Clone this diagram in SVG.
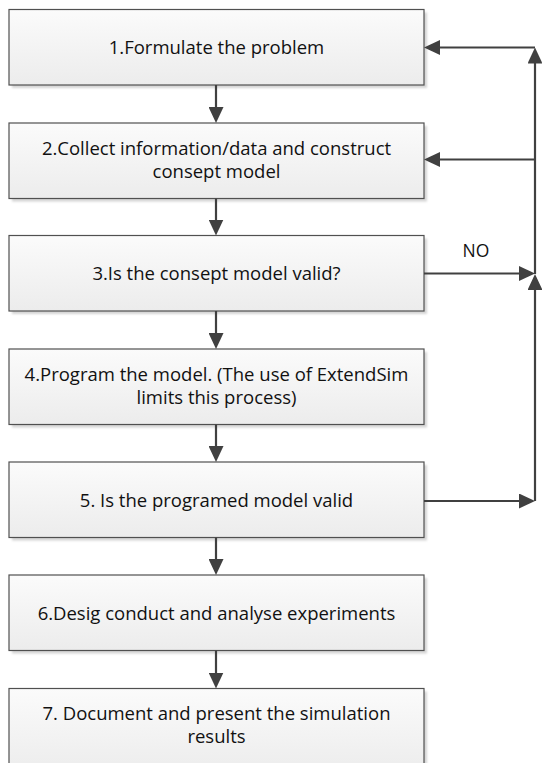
<svg xmlns="http://www.w3.org/2000/svg" width="542" height="763" viewBox="0 0 542 763">
  <defs>
    <linearGradient id="boxFill" x1="0" y1="0" x2="0" y2="1">
      <stop offset="0" stop-color="#fbfbfb"/>
      <stop offset="1" stop-color="#ececec"/>
    </linearGradient>
    <filter id="soft" x="-5%" y="-10%" width="110%" height="120%">
      <feGaussianBlur stdDeviation="1"/>
    </filter>
    <marker id="arrow" markerUnits="userSpaceOnUse" markerWidth="16" markerHeight="15" refX="8" refY="7.5" orient="auto">
      <path d="M0,0 L16,7.5 L0,15 Z" fill="#404040"/>
    </marker>
    <style>
      .shadow { fill: #d4d4d4; filter: url(#soft); }
      .box { fill: url(#boxFill); stroke: #505050; stroke-width: 1.2; }
      .label { font-family: "Open Sans", "Liberation Sans", sans-serif; font-size: 18.5px; fill: #111111; text-anchor: middle; }
      .conn { fill: none; stroke: #404040; stroke-width: 2.2; marker-end: url(#arrow); }
    </style>
  </defs>

  <!-- process steps -->
  <g id="step1">
    <rect class="shadow" x="12" y="12.5" width="415" height="75.5"/>
    <rect class="box" x="9" y="9.5" width="415" height="75.5"/>
    <text class="label" x="216.5" y="54">1.Formulate the problem</text>
  </g>
  <g id="step2">
    <rect class="shadow" x="12" y="126" width="415" height="75.5"/>
    <rect class="box" x="9" y="123" width="415" height="75.5"/>
    <text class="label" x="216.5" y="154.5">2.Collect information/data and construct</text>
    <text class="label" x="216.5" y="177.5">consept model</text>
  </g>
  <g id="step3">
    <rect class="shadow" x="12" y="238.5" width="415" height="75.5"/>
    <rect class="box" x="9" y="235.5" width="415" height="75.5"/>
    <text class="label" x="216.5" y="280">3.Is the consept model valid?</text>
  </g>
  <g id="step4">
    <rect class="shadow" x="12" y="352" width="415" height="75.5"/>
    <rect class="box" x="9" y="349" width="415" height="75.5"/>
    <text class="label" x="216.5" y="380.5">4.Program the model. (The use of ExtendSim</text>
    <text class="label" x="216.5" y="403.5">limits this process)</text>
  </g>
  <g id="step5">
    <rect class="shadow" x="12" y="465" width="415" height="75.5"/>
    <rect class="box" x="9" y="462" width="415" height="75.5"/>
    <text class="label" x="216.5" y="506.5">5. Is the programed model valid</text>
  </g>
  <g id="step6">
    <rect class="shadow" x="12" y="578" width="415" height="75.5"/>
    <rect class="box" x="9" y="575" width="415" height="75.5"/>
    <text class="label" x="216.5" y="619.5">6.Desig conduct and analyse experiments</text>
  </g>
  <g id="step7">
    <rect class="shadow" x="12" y="691.5" width="415" height="85"/>
    <rect class="box" x="9" y="688.5" width="415" height="85"/>
    <text class="label" x="216.5" y="720">7. Document and present the simulation</text>
    <text class="label" x="216.5" y="743">results</text>
  </g>

  <!-- connectors -->
  <g id="connectors">
    <path class="conn" d="M216,85 V115"/>
    <path class="conn" d="M216,198.5 V227.5"/>
    <path class="conn" d="M216,311 V341"/>
    <path class="conn" d="M216,424.5 V454"/>
    <path class="conn" d="M216,537.5 V567"/>
    <path class="conn" d="M216,650.5 V680.5"/>
    <path class="conn" d="M424,273.5 H527"/>
    <path class="conn" d="M424,501 H527"/>
    <path class="conn" d="M535,501 V282"/>
    <path class="conn" d="M535,274 V55.5"/>
    <path class="conn" d="M535,47.5 H432"/>
    <path class="conn" d="M535,159.5 H432"/>
    <text id="label-no" x="476" y="257" style="font-family: 'Open Sans', 'Liberation Sans', sans-serif; font-size: 17.5px; fill: #111111; text-anchor: middle;">NO</text>
  </g>
</svg>
